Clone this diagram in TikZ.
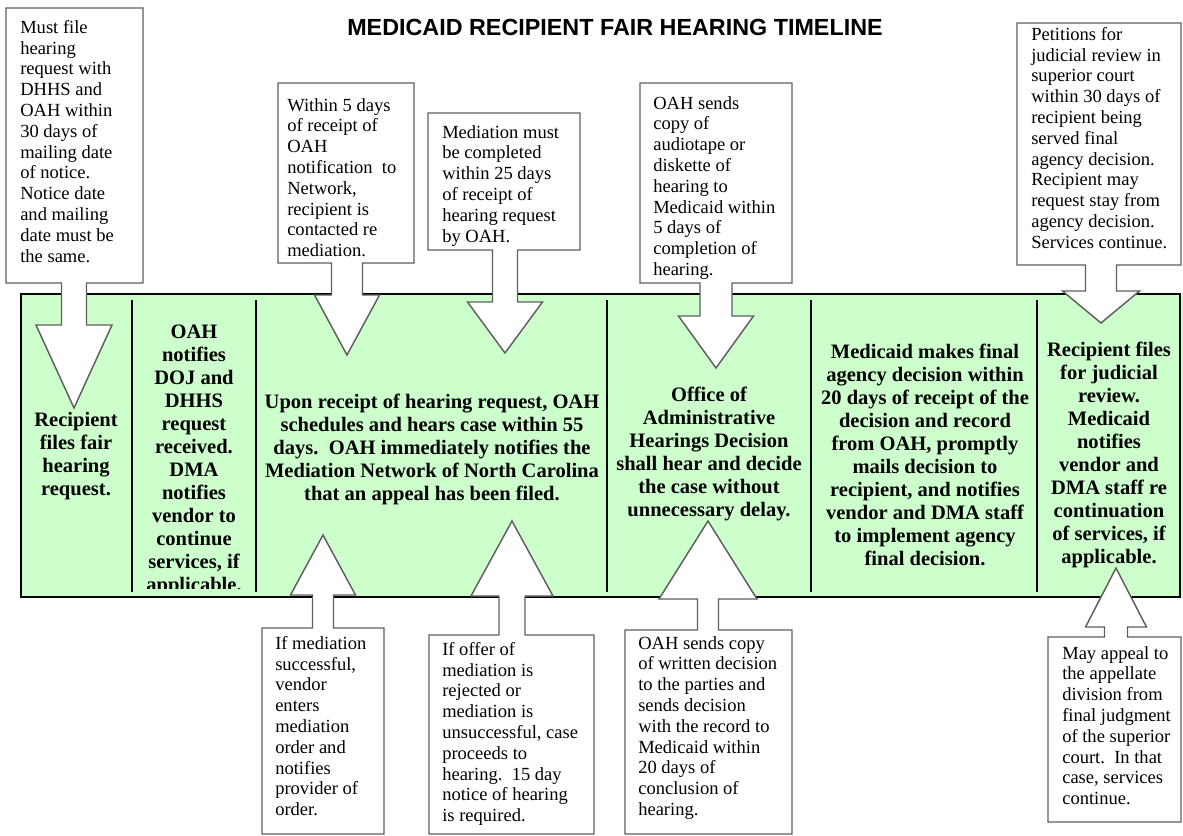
\documentclass[tikz,border=0pt]{standalone}
\usepackage{fontspec}
\setmainfont{Liberation Serif}
\newfontfamily\titlefont{Liberation Sans}
\usetikzlibrary{calc}
\definecolor{bandgreen}{RGB}{204,255,204}
\definecolor{calloutgray}{RGB}{95,95,95}
% callout box (corners #1a, #1b) with an arrow to the tip #2
\def\downcall(#1)(#2)(#3:#4:#5){\draw[callout] (#1a) -| (#1b) -- ($(#1b -| #2)+(#3,0)$) -- ($(#2)+(#3,-#5)$) -- ($(#2)+(#4,-#5)$) -- (#2) -- ($(#2)+(-#4,-#5)$) -- ($(#2)+(-#3,-#5)$) -- ($(#1b -| #2)+(-#3,0)$) -- (#1a |- #1b) -- cycle;}
\def\upcall(#1)(#2)(#3:#4:#5){\draw[callout] (#1a) -- ($(#1a -| #2)+(-#3,0)$) -- ($(#2)+(-#3,#5)$) -- ($(#2)+(-#4,#5)$) -- (#2) -- ($(#2)+(#4,#5)$) -- ($(#2)+(#3,#5)$) -- ($(#1a -| #2)+(#3,0)$) -- (#1b |- #1a) -- (#1b) -- (#1a |- #1b) -- cycle;}

\begin{document}
\begin{tikzpicture}[x=0.75pt, y=-0.75pt,
		callout/.style={fill=white, draw=calloutgray, line width=1.1pt, line join=miter},
		note/.style={anchor=north west, inner sep=0pt, align=left, font=\fontsize{13.9}{15.6}\selectfont},
		stage/.style={inner sep=0pt, align=center, font=\fontsize{15.4}{17.25}\selectfont\bfseries},
		divider/.style={line width=0.9pt}]
			%%%%% START %%%%%
			\useasboundingbox (0,0) rectangle (1183,836);
			
			\node[anchor=base, font=\titlefont\bfseries\fontsize{17.5}{20}\selectfont] (title) at (615,35) {MEDICAID RECIPIENT FAIR HEARING TIMELINE};
			
			% green band
			\fill[bandgreen] (21,294) rectangle (1183,597);
			\draw[line width=1.2pt] (21,294) rectangle (1180,597);
			\foreach \x in {132,256,607,811,1037}
				\draw[divider] (\x,300) -- (\x,592);
			
			\node[stage] (s1) at (76,456) {Recipient\\files fair\\hearing\\request.};
			\begin{scope}
				\clip (132,294) rectangle (256,588);
				\node[stage, anchor=north] (s2) at (194,325) {OAH\\notifies\\DOJ and\\DHHS\\request\\received.\\DMA\\notifies\\vendor to\\continue\\services, if\\applicable.};
			\end{scope}
			\node[stage] (s3) at (432,449) {Upon receipt of hearing request, OAH\\schedules and hears case within 55\\days.\ \ OAH immediately notifies the\\Mediation Network of North Carolina\\that an appeal has been filed.};
			\node[stage] (s4) at (709,454) {Office of\\Administrative\\Hearings Decision\\shall hear and decide\\the case without\\unnecessary delay.};
			\node[stage] (s5) at (925,455) {Medicaid makes final\\agency decision within\\20 days of receipt of the\\decision and record\\from OAH, promptly\\mails decision to\\recipient, and notifies\\vendor and DMA staff\\to implement agency\\final decision.};
			\node[stage] (s6) at (1109,455) {Recipient files\\for judicial\\review.\\Medicaid\\notifies\\vendor and\\DMA staff re\\continuation\\of services, if\\applicable.};
			
			% callouts above the band
			\coordinate (b1a) at (6,8);      \coordinate (b1b) at (143,283);  \coordinate (t1) at (74,408);
			\coordinate (b2a) at (278,83);   \coordinate (b2b) at (414,263);  \coordinate (t2) at (347,355);
			\coordinate (b3a) at (428,113);  \coordinate (b3b) at (580,250);  \coordinate (t3) at (505,353);
			\coordinate (b4a) at (640,83);   \coordinate (b4b) at (792,283);  \coordinate (t4) at (716,368);
			\coordinate (b5a) at (1017,23);  \coordinate (b5b) at (1181,265); \coordinate (t5) at (1101,323);
			
			\downcall(b1)(t1)(12.5:38:83)
			\downcall(b2)(t2)(15.5:32.5:60)
			\downcall(b3)(t3)(12.5:37.5:51)
			\downcall(b4)(t4)(16:37.5:52)
			\downcall(b5)(t5)(15.5:38.5:32)
			
			\node[note] (n1) at ($(b1a)+(14,12)$) {Must file\\hearing\\request with\\DHHS and\\OAH within\\30 days of\\mailing date\\of notice.\\Notice date\\and mailing\\date must be\\the same.};
			\node[note] (n2) at ($(b2a)+(9,15)$) {Within 5 days\\of receipt of\\OAH\\notification\ \ to\\Network,\\recipient is\\contacted re\\mediation.};
			\node[note] (n3) at ($(b3a)+(14,12)$) {Mediation must\\be completed\\within 25 days\\of receipt of\\hearing request\\by OAH.};
			\node[note] (n4) at ($(b4a)+(13,13)$) {OAH sends\\copy of\\audiotape or\\diskette of\\hearing to\\Medicaid within\\5 days of\\completion of\\hearing.};
			\node[note] (n5) at ($(b5a)+(14,4)$) {Petitions for\\judicial review in\\superior court\\within 30 days of\\recipient being\\served final\\agency decision.\\Recipient may\\request stay from\\agency decision.\\Services continue.};
			
			% callouts below the band
			\coordinate (b6a) at (262,628);  \coordinate (b6b) at (384,834);  \coordinate (t6) at (323,535);
			\coordinate (b7a) at (429,635);  \coordinate (b7b) at (594,834);  \coordinate (t7) at (512,521);
			\coordinate (b8a) at (625,630);  \coordinate (b8b) at (792,834);  \coordinate (t8) at (708,521);
			\coordinate (b9a) at (1048,637); \coordinate (b9b) at (1181,822); \coordinate (t9) at (1116,568);
			
			\upcall(b6)(t6)(10.5:32.5:60)
			\upcall(b7)(t7)(13:41:75)
			\upcall(b8)(t8)(10.5:49:78)
			\upcall(b9)(t9)(11.5:30.5:59)
			
			\node[note] (n6) at ($(b6a)+(13,8)$) {If mediation\\successful,\\vendor\\enters\\mediation\\order and\\notifies\\provider of\\order.};
			\node[note] (n7) at ($(b7a)+(13,7)$) {If offer of\\mediation is\\rejected or\\mediation is\\unsuccessful, case\\proceeds to\\hearing.\ \ 15 day\\notice of hearing\\is required.};
			\node[note] (n8) at ($(b8a)+(13,6)$) {OAH sends copy\\of written decision\\to the parties and\\sends decision\\with the record to\\Medicaid within\\20 days of\\conclusion of\\hearing.};
			\node[note] (n9) at ($(b9a)+(14,9)$) {May appeal to\\the appellate\\division from\\final judgment\\of the superior\\court.\ \ In that\\case, services\\continue.};
			%%%%% END %%%%%
\end{tikzpicture}
\end{document}
